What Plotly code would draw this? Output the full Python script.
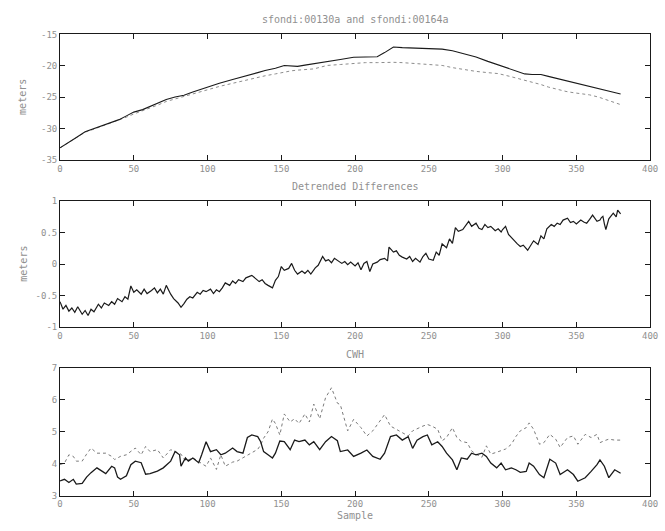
import plotly.graph_objects as go

# ---- top panel: the two range series (metres) ----
top_x = [0, 5, 10, 17, 22, 28, 34, 40, 45, 50, 56, 61, 67, 72, 78, 84, 90, 95, 100, 108, 117, 122, 128, 134, 139, 146,
         152, 157, 161, 166, 172, 177, 181, 190, 199, 207, 215, 220, 226, 232, 240, 248, 254, 259, 266, 275, 282,
         290, 297, 305, 315, 320, 326, 331, 337, 343, 348, 354, 359, 365, 370, 375, 380]
top_solid = [-33.1, -32.4, -31.6, -30.55, -30.1, -29.6, -29.1, -28.6, -28.0, -27.4, -27.0, -26.5, -25.9, -25.4, -25.0,
             -24.7, -24.2, -23.8, -23.35, -22.8, -22.2, -21.9, -21.5, -21.1, -20.75, -20.4,
             -19.95, -20.0, -20.1, -19.9, -19.7, -19.5, -19.3, -19.0, -18.65, -18.6, -18.55, -17.9, -17.0, -17.1,
             -17.2, -17.25, -17.3, -17.35, -17.6, -18.1, -18.6,
             -19.3, -19.85, -20.6, -21.3, -21.4, -21.4, -21.7, -22.05, -22.4, -22.7, -23.0, -23.35, -23.7, -24.0,
             -24.2, -24.5]
top_dotted = [-33.1, -32.4, -31.7, -30.6, -30.2, -29.7, -29.2, -28.7, -28.2, -27.7, -27.2, -26.75, -26.2, -25.7, -25.3,
              -24.9, -24.4, -24.1, -23.8, -23.3, -22.8, -22.5, -22.2, -21.9, -21.6, -21.3,
              -21.0, -20.8, -20.7, -20.6, -20.5, -20.2, -19.95, -19.8, -19.6, -19.5, -19.5, -19.45, -19.45, -19.5,
              -19.6, -19.7, -19.8, -19.95, -20.3, -20.65, -20.9,
              -21.1, -21.25, -21.7, -22.3, -22.7, -23.0, -23.4, -23.8, -24.1, -24.3, -24.5, -24.65, -25.0, -25.4,
              -25.8, -26.2]

# ---- middle panel: detrended differences (metres) ----
diff_x = [0, 2, 4, 6, 8, 10, 12, 15, 17, 19, 21, 23, 26, 28, 30, 33, 35, 37, 39, 42, 44, 46, 48, 50, 52, 55, 57, 59,
          62, 64, 66, 68, 70, 72, 75, 77, 80, 82, 84, 86, 88, 90, 93, 95, 97, 99, 102, 104, 106, 108, 110, 112, 115,
          117, 119, 121, 124, 126, 128, 130, 133, 135, 137, 139, 141, 144, 146, 148, 150, 152, 155, 157, 159, 161,
          164, 166, 168, 170, 173, 175, 178, 180, 182, 184, 186, 188, 191, 193, 195, 197, 200, 202, 204, 206, 208,
          210, 212, 215, 217, 220, 222, 223, 226, 228, 230, 232, 235, 237, 239, 241, 244, 246, 248, 250, 253, 255,
          257, 259, 262, 264, 266, 268, 270, 273, 275, 277, 279, 282, 284, 286, 288, 290, 292, 295, 297, 299, 300,
          302, 304, 306, 308, 310, 312, 314, 317, 319, 321, 324, 326, 328, 330, 333, 335, 337, 339, 341, 344, 346,
          348, 350, 353, 355, 357, 359, 361, 364, 366, 367, 368, 369, 370, 372, 375, 377, 378, 380]
diff_y = [-0.60, -0.72, -0.66, -0.75, -0.70, -0.77, -0.68, -0.80, -0.74, -0.82, -0.72, -0.76, -0.64, -0.70, -0.62,
          -0.66, -0.60, -0.64, -0.55, -0.60, -0.52, -0.56, -0.35, -0.45, -0.41, -0.48, -0.40, -0.47, -0.42, -0.38,
          -0.46, -0.40, -0.48, -0.34, -0.48, -0.55, -0.62, -0.69, -0.63, -0.56, -0.52, -0.54, -0.45, -0.48, -0.42,
          -0.44, -0.40, -0.47, -0.41, -0.44, -0.38, -0.30, -0.34, -0.27, -0.31, -0.25, -0.28, -0.22, -0.20, -0.18,
          -0.24, -0.28, -0.25, -0.31, -0.34, -0.38, -0.26, -0.20, -0.04, -0.10, -0.07, 0.01, -0.10, -0.16, -0.11,
          -0.15, -0.10, -0.16, -0.06, -0.02, 0.12, 0.05, 0.07, 0.02, 0.09, 0.06, 0.01, 0.04, -0.01, 0.03, -0.03,
          0.02, -0.09, 0.01, 0.04, -0.12, 0.00, 0.03, 0.07, 0.09, 0.05, 0.27, 0.19, 0.21, 0.14, 0.11, 0.08, 0.12,
          0.04, 0.09, 0.03, 0.12, 0.17, 0.08, 0.06, 0.19, 0.14, 0.32, 0.26, 0.40, 0.33, 0.58, 0.52, 0.55, 0.62,
          0.68, 0.60, 0.65, 0.57, 0.55, 0.63, 0.58, 0.60, 0.53, 0.56, 0.51, 0.55, 0.60, 0.47, 0.42, 0.36, 0.32,
          0.28, 0.30, 0.22, 0.29, 0.37, 0.31, 0.45, 0.40, 0.56, 0.63, 0.60, 0.65, 0.63, 0.70, 0.73, 0.66, 0.68,
          0.64, 0.70, 0.67, 0.65, 0.71, 0.78, 0.68, 0.70, 0.74, 0.76, 0.64, 0.55, 0.72, 0.81, 0.75, 0.86, 0.80,
          0.78, 0.81]

# ---- bottom panel: CWH series ----
cwh_x = [0, 3, 6, 9, 11, 15, 18, 21, 25, 28, 31, 35, 37, 39, 41, 45, 48, 51, 55, 58, 61, 66, 70, 75, 78, 81, 82, 85,
         87, 90, 94, 96, 99, 102, 106, 109, 112, 117, 120, 124, 127, 130, 134, 136, 138, 141, 144, 146, 149, 152,
         156, 159, 162, 166, 169, 172, 176, 180, 184, 188, 190, 195, 199, 204, 208, 212, 217, 220, 224, 228, 232,
         236, 239, 242, 246, 249, 252, 256, 259, 262, 266, 269, 272, 276, 279, 282, 286, 289, 292, 296, 299, 302,
         306, 309, 312, 316, 318, 321, 325, 328, 332, 336, 339, 344, 348, 351, 356, 360, 364, 366, 369, 372, 376,
         380]
cwh_solid = [3.46, 3.51, 3.41, 3.51, 3.36, 3.38, 3.58, 3.72, 3.87, 3.77, 3.69, 3.92, 3.87, 3.58, 3.51, 3.62, 3.97,
             4.08, 4.03, 3.67, 3.69, 3.77, 3.87, 4.08, 4.38, 4.28, 3.92, 4.18, 4.08, 4.18, 4.03, 4.28, 4.69, 4.38,
             4.44, 4.28, 4.33, 4.49, 4.38, 4.33, 4.82, 4.90, 4.85, 4.69, 4.38, 4.28, 4.18, 4.33, 4.71, 4.69, 4.44,
             4.74, 4.69, 4.74, 4.59, 4.69, 4.44, 4.69, 4.85, 4.72, 4.38, 4.43, 4.23, 4.33, 4.43, 4.23, 4.14, 4.33,
             4.85, 4.90, 4.74, 4.85, 4.48, 4.74, 4.85, 4.90, 4.59, 4.69, 4.54, 4.33, 4.12, 3.81, 4.18, 4.14, 4.33,
             4.28, 4.33, 4.23, 4.02, 3.87, 4.02, 3.81, 3.87, 3.81, 3.73, 3.76, 4.02, 3.92, 3.66, 3.56, 4.14, 4.02,
             3.66, 3.81, 3.66, 3.45, 3.56, 3.76, 3.97, 4.12, 3.92, 3.56, 3.81, 3.70]
cwh_dotted = [3.97, 4.02, 4.28, 4.23, 4.08, 4.08, 4.30, 4.49, 4.33, 4.33, 4.33, 4.23, 4.13, 4.18, 4.23, 4.28, 4.40,
              4.49, 4.28, 4.54, 4.38, 4.44, 4.18, 4.44, 4.38, 4.33, 4.30, 4.08, 4.12, 4.18, 4.08, 4.00, 3.92, 4.18,
              3.82, 4.28, 3.92, 4.05, 4.08, 4.18, 4.25, 4.33, 4.45, 4.59, 4.80, 5.00, 5.40, 5.26, 4.90, 5.56, 5.31,
              5.41, 5.26, 5.56, 5.31, 5.87, 5.41, 6.07, 6.38, 5.90, 5.85, 5.03, 5.39, 5.13, 4.87, 5.03, 5.33, 5.54,
              5.18, 5.08, 4.98, 4.87, 5.03, 5.10, 5.18, 5.23, 5.18, 5.08, 4.72, 4.82, 5.13, 4.82, 4.70, 4.66, 4.40,
              4.30, 4.20, 4.56, 4.30, 4.36, 4.40, 4.46, 4.61, 4.85, 5.03, 5.13, 5.28, 5.08, 4.61, 4.66, 4.92, 4.77,
              4.51, 4.82, 4.87, 4.61, 4.92, 4.82, 4.92, 4.66, 4.72, 4.77, 4.74, 4.74]

x_ticks = [0, 50, 100, 150, 200, 250, 300, 350, 400]
top_ticks = [-35, -30, -25, -20, -15]
diff_ticks = [-1, -0.5, 0, 0.5, 1]
diff_labels = ["-1", "-0.5", "0", "0.5", "1"]
cwh_ticks = [3, 4, 5, 6, 7]

W, H = 665, 531
FONT = dict(family="DejaVu Sans Mono", size=9, color="#909090")
INK = "#1a1a1a"

fig = go.Figure()
fig.add_trace(go.Scatter(x=top_x, y=top_dotted, mode="lines", line=dict(color="#8c8c8c", width=1, dash="dot"),
                         xaxis="x", yaxis="y"))
fig.add_trace(go.Scatter(x=top_x, y=top_solid, mode="lines", line=dict(color=INK, width=1.1),
                         xaxis="x", yaxis="y"))
fig.add_trace(go.Scatter(x=diff_x, y=diff_y, mode="lines", line=dict(color=INK, width=1.2),
                         xaxis="x2", yaxis="y2"))
fig.add_trace(go.Scatter(x=cwh_x, y=cwh_dotted, mode="lines", line=dict(color="#7a7a7a", width=1, dash="dot"),
                         xaxis="x3", yaxis="y3"))
fig.add_trace(go.Scatter(x=cwh_x, y=cwh_solid, mode="lines", line=dict(color=INK, width=1.3),
                         xaxis="x3", yaxis="y3"))


def px_dom(a, b, total):
    return [a / total, b / total]


def py_dom(top, bottom):
    return [1 - bottom / H, 1 - top / H]


xdom = px_dom(58, 658, W)
common_axis = dict(showline=True, linecolor=INK, linewidth=1, mirror="ticks", ticks="inside", ticklen=5,
                   tickcolor=INK, showgrid=False, zeroline=False, tickfont=FONT, ticklabeloverflow="allow")

layout = dict(width=W, height=H, margin=dict(l=0, r=0, t=0, b=0), showlegend=False,
              paper_bgcolor="white", plot_bgcolor="white")
panels = [
    ("", (30, 157.7), [-35, -15], top_ticks, [str(t) for t in top_ticks]),
    ("2", (200, 328), [-1, 1], diff_ticks, diff_labels),
    ("3", (370, 500), [3, 7], cwh_ticks, [str(t) for t in cwh_ticks]),
]
for suffix, (t, b), yr, yt, yl in panels:
    layout["xaxis" + suffix] = dict(common_axis, domain=xdom, range=[0, 400], tickvals=x_ticks,
                                    ticktext=[str(v) for v in x_ticks], anchor="y" + suffix)
    layout["yaxis" + suffix] = dict(common_axis, domain=py_dom(t, b), range=yr, tickvals=yt, ticktext=yl,
                                    anchor="x" + suffix)

fig.update_layout(**layout)

ann_font = dict(family="DejaVu Sans Mono", size=10, color="#909090")
titles = [("sfondi:00130a and sfondi:00164a", 15), ("Detrended Differences", 185), ("CWH", 356)]
for txt, y in titles:
    fig.add_annotation(text=txt, x=358 / W, y=1 - y / H, xref="paper", yref="paper", showarrow=False,
                       font=ann_font, xanchor="center", yanchor="middle")
for y in (94, 264):
    fig.add_annotation(text="meters", x=20 / W, y=1 - y / H, xref="paper", yref="paper", showarrow=False,
                       font=ann_font, textangle=-90, xanchor="center", yanchor="middle")
fig.add_annotation(text="Sample", x=358 / W, y=1 - 520 / H, xref="paper", yref="paper", showarrow=False,
                   font=ann_font, xanchor="center", yanchor="middle")

fig.write_html("out.html")
